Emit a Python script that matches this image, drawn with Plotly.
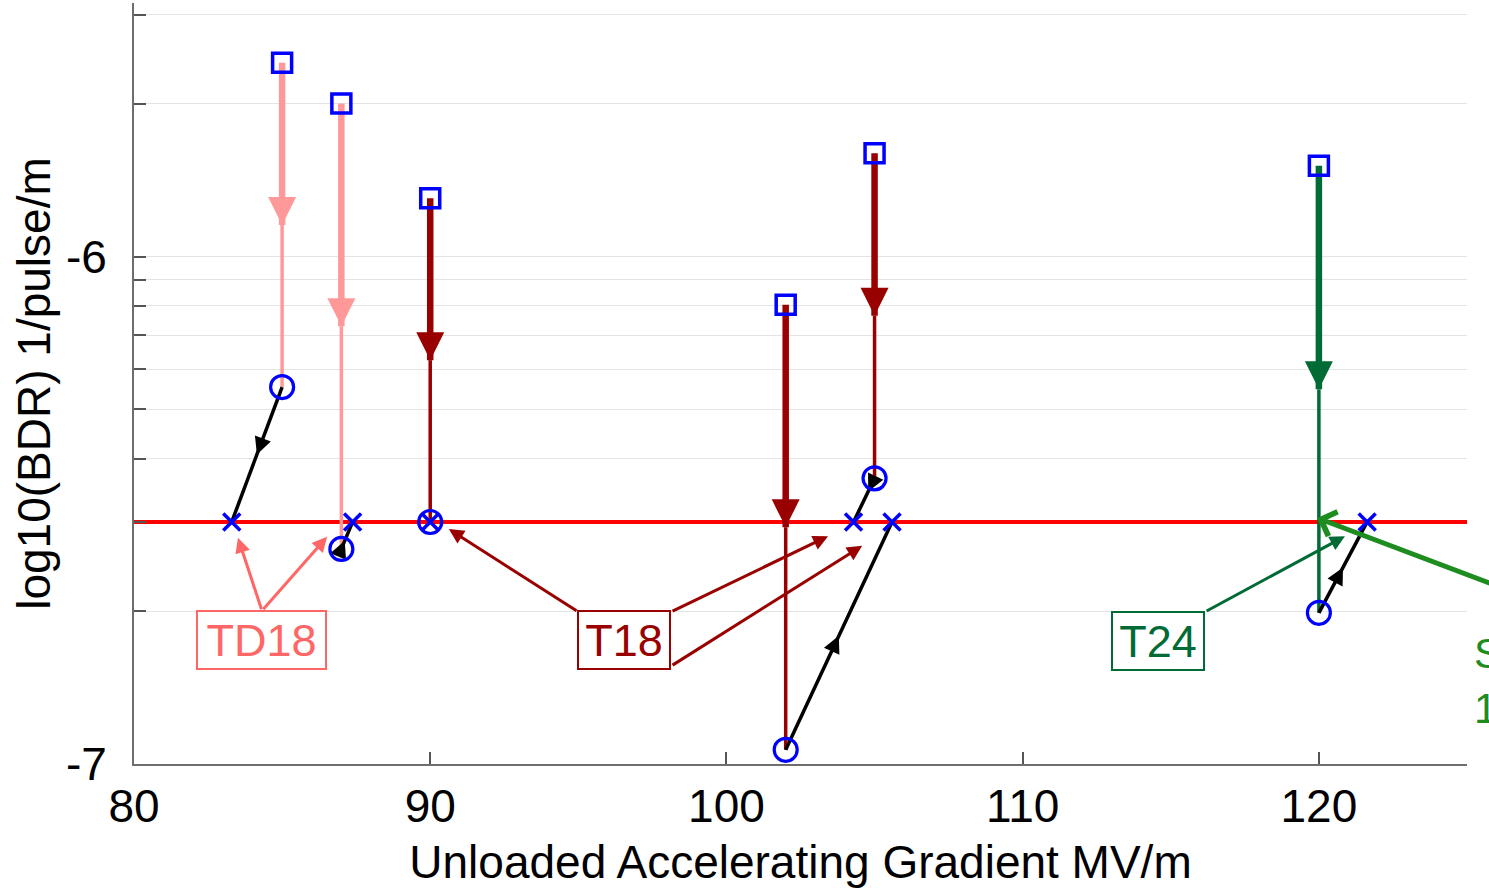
import numpy as np
import plotly.graph_objects as go

# ---------------- data (log10 BDR, 1/pulse/m) ----------------
td18_x = [85, 87]
td18_before = [-5.618, -5.698]
td18_after = [-6.257, -6.576]
td18_scaled = [83.30, 87.38]

t18_x = [90, 102, 105]
t18_before = [-5.885, -6.095, -5.796]
t18_after = [-6.523, -6.972, -6.437]
t18_scaled = [90.0, 105.59, 104.29]

t24_x = [120]
t24_before = [-5.821]
t24_after = [-6.702]
t24_scaled = [121.63]

ref_level = float(np.log10(3e-7))   # red reference line

x_ticks = [80, 90, 100, 110, 120]
y_major = [-7, -6]
y_minor = [float(np.log10(k * 1e-7)) for k in range(2, 10)] + \
          [float(np.log10(k * 1e-6)) for k in (2, 3)]

groups = [
    dict(name="TD18", x=td18_x, b=td18_before, a=td18_after, s=td18_scaled,
         color="#FF9999", label_color="#FF6666", head_frac=[0.5, 0.3]),
    dict(name="T18", x=t18_x, b=t18_before, a=t18_after, s=t18_scaled,
         color="#990000", label_color="#990000", head_frac=[0.5, 0.5, 0.3]),
    dict(name="T24", x=t24_x, b=t24_before, a=t24_after, s=t24_scaled,
         color="#006B35", label_color="#006B35", head_frac=[0.5]),
]

FONT = "Liberation Sans, Arial, sans-serif"
FS = 46
BLUE = "#0000FF"

fig = go.Figure()

# reference line
fig.add_trace(go.Scatter(x=[80, 125], y=[ref_level, ref_level], mode="lines",
                         line=dict(color="#FF0000", width=4), hoverinfo="skip",
                         showlegend=False))

for g in groups:
    for i, x in enumerate(g["x"]):
        b, a = g["b"][i], g["a"][i]
        mid = (b + a) / 2
        # thick upper part
        fig.add_trace(go.Scatter(x=[x, x], y=[b, mid], mode="lines",
                                 line=dict(color=g["color"], width=6.5),
                                 hoverinfo="skip", showlegend=False))
        # thin lower part
        fig.add_trace(go.Scatter(x=[x, x], y=[mid, a], mode="lines",
                                 line=dict(color=g["color"], width=3.5),
                                 hoverinfo="skip", showlegend=False))
        # arrow head
        fig.add_trace(go.Scatter(x=[x, x], y=[b, mid], mode="markers",
                                 marker=dict(symbol="arrow-up", size=[0, 28],
                                             angleref="previous", opacity=1,
                                             color=g["color"], line=dict(width=0)),
                                 hoverinfo="skip", showlegend=False))
        # black arrow: measured point -> scaled to reference level
        s = g["s"][i]
        if abs(s - x) > 1e-6 or abs(a - ref_level) > 1e-3:
            fig.add_trace(go.Scatter(x=[x, s], y=[a, ref_level], mode="lines",
                                     line=dict(color="black", width=3.5),
                                     hoverinfo="skip", showlegend=False))
            f = g["head_frac"][i]
            hx = x + f * (s - x)
            hy = a + f * (ref_level - a)
            fig.add_trace(go.Scatter(x=[x, hx], y=[a, hy], mode="markers",
                                     marker=dict(symbol="arrow-up", size=[0, 17],
                                                 angleref="previous", opacity=1,
                                                 color="black", line=dict(width=0)),
                                     hoverinfo="skip", showlegend=False))

# markers
all_x = td18_x + t18_x + t24_x
all_b = td18_before + t18_before + t24_before
all_a = td18_after + t18_after + t24_after
all_s = td18_scaled + t18_scaled + t24_scaled

fig.add_trace(go.Scatter(x=all_x, y=all_b, mode="markers",
                         marker=dict(symbol="square-open", size=19, color=BLUE,
                                     line=dict(width=3.5, color=BLUE)),
                         showlegend=False))
fig.add_trace(go.Scatter(x=all_x, y=all_a, mode="markers",
                         marker=dict(symbol="circle-open", size=23, color=BLUE,
                                     line=dict(width=3.2, color=BLUE)),
                         showlegend=False))
fig.add_trace(go.Scatter(x=all_s, y=[ref_level] * len(all_s), mode="markers",
                         marker=dict(symbol="x-thin", size=17, color=BLUE,
                                     line=dict(width=3.5, color=BLUE)),
                         showlegend=False))

# ---------------- annotations ----------------
ann = []
label_pos = {"TD18": (84.32, -6.756, 125), "T18": (96.54, -6.756, 88),
             "T24": (114.57, -6.758, 88)}
for g in groups:
    lx, ly, w = label_pos[g["name"]]
    ann.append(dict(x=lx, y=ly, xref="x", yref="y", text=g["name"],
                    showarrow=False, font=dict(family=FONT, size=45, color=g["label_color"]),
                    bordercolor=g["label_color"], borderwidth=2, borderpad=1,
                    width=w, height=54, bgcolor="rgba(0,0,0,0)"))

label_arrows = [
    ("#FF6666", 84.32, -6.698, 83.51, -6.554),
    ("#FF6666", 84.32, -6.698, 86.52, -6.552),
    ("#990000", 94.99, -6.700, 90.63, -6.537),
    ("#990000", 98.13, -6.700, 103.43, -6.551),
    ("#990000", 98.13, -6.807, 104.58, -6.570),
    ("#006B35", 116.16, -6.700, 120.88, -6.551),
]
for c, tx, ty, hx, hy in label_arrows:
    ann.append(dict(x=hx, y=hy, ax=tx, ay=ty, xref="x", yref="y", axref="x", ayref="y",
                    text="", showarrow=True, arrowhead=2, arrowsize=1,
                    arrowwidth=3, arrowcolor=c))

# big green arrow coming from the right
ann.append(dict(x=119.94, y=-6.515, ax=128.14, ay=-6.696, xref="x", yref="y",
                axref="x", ayref="y", text="", showarrow=True, arrowhead=4,
                arrowsize=1, arrowwidth=5, arrowcolor="#1E8C1E"))
ann.append(dict(x=1.004, y=-6.837, xref="paper", yref="y", xanchor="left", yanchor="middle",
                text="Spec.<br>1e-7", showarrow=False, align="left",
                font=dict(family=FONT, size=42, color="#1E8C1E")))

fig.update_layout(
    width=1489, height=893,
    margin=dict(l=134, r=22, t=3, b=129),
    paper_bgcolor="white", plot_bgcolor="white",
    font=dict(family=FONT, size=FS, color="black"),
    annotations=ann,
    xaxis=dict(range=[80, 125], tickvals=x_ticks, ticktext=[str(v) for v in x_ticks],
               ticks="inside", ticklen=12, tickwidth=1.5, tickcolor="#555",
               showline=True, linecolor="#6E6E6E", linewidth=2, showgrid=False,
               zeroline=False, tickfont=dict(size=FS), ticklabelstandoff=1,
               title=dict(text="Unloaded Accelerating Gradient MV/m",
                          font=dict(size=FS), standoff=15)),
    yaxis=dict(range=[-7, -5.5], tickvals=y_major, ticktext=["-7", "-6"],
               ticks="inside", ticklen=12, tickwidth=1.5, tickcolor="#555",
               showline=True, linecolor="#6E6E6E", linewidth=2,
               showgrid=True, gridcolor="#E4E4E4", gridwidth=1, zeroline=False,
               tickfont=dict(size=FS), ticklabelstandoff=16,
               minor=dict(tickmode="array", tickvals=y_minor, ticks="inside",
                          ticklen=12, tickwidth=1.5, tickcolor="#555",
                          showgrid=True, gridcolor="#E4E4E4", gridwidth=1),
               title=dict(text="log10(BDR) 1/pulse/m", font=dict(size=FS), standoff=1)),
)

fig.write_html("out.html", config={"displayModeBar": False},
               post_script="document.body.style.margin='0';")
